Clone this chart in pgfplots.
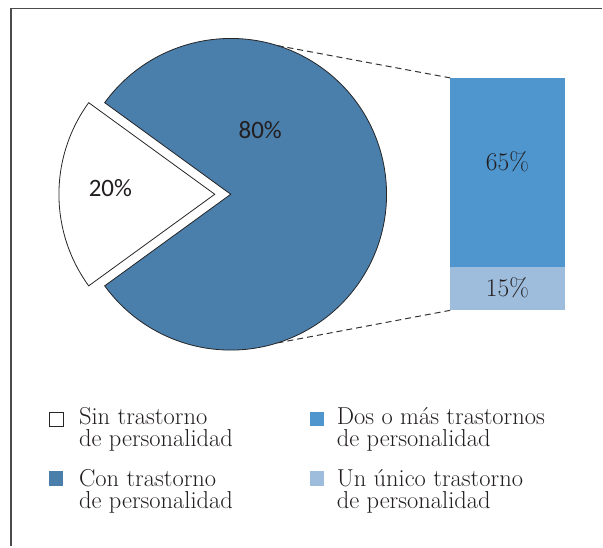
\documentclass[border=0pt]{standalone}
\usepackage{fontspec}
\usepackage{pgfplots}
\pgfplotsset{compat=1.18}
\newfontfamily\piefont{Carlito}
\definecolor{pieblue}{RGB}{74,126,171}
\definecolor{bardark}{RGB}{79,150,207}
\definecolor{barlight}{RGB}{158,188,220}
\definecolor{txt}{RGB}{35,31,32}
% data (percent)
\def\pWith{80}
\def\pWithout{20}
\def\pTwo{65}
\def\pOne{15}
\newcommand{\legtext}[2]{\parbox[t]{240pt}{\raggedright\fontsize{24.5}{21.7}\selectfont #1\\#2}}
\begin{document}
\begin{tikzpicture}
\begin{axis}[at={(450.7pt,236.3pt)}, anchor=south west, scale only axis, width=115pt, height=232.4pt,
  xmin=0, xmax=1, ymin=0, ymax=80, hide axis, ybar stacked, bar width=115pt, clip=false]
\addplot[fill=barlight, draw=none] coordinates {(0.5,\pOne)};
\addplot[fill=bardark, draw=none] coordinates {(0.5,\pTwo)};
\end{axis}
\begin{axis}[at={(0,0)}, anchor=south west, scale only axis, width=603pt, height=547pt,
  xmin=0, xmax=603, ymin=0, ymax=547, hide axis, clip=false]
\path (axis cs:0,0) rectangle (axis cs:603,547);
% frame
\draw[line width=1.4pt, color=black!70] (axis cs:11,0) -- (axis cs:11,538.5) -- (axis cs:603,538.5);
\pgfmathsetmacro{\half}{\pWithout*3.6/2}
\pgfmathsetmacro{\sa}{180-\half}
\pgfmathsetmacro{\ea}{180+\half}
% 80% wedge
\filldraw[fill=pieblue, draw=black!85, line width=0.8pt]
  (axis cs:231,352.5) -- ++(\sa:156pt) arc[start angle=\sa, end angle={-\sa}, radius=156pt] -- cycle;
% 20% wedge (exploded)
\filldraw[fill=white, draw=black!85, line width=0.8pt]
  (axis cs:215,352.5) -- ++(\sa:156pt) arc[start angle=\sa, end angle=\ea, radius=156pt] -- cycle;
% connector lines
\draw[dash pattern=on 6pt off 4pt, line width=1pt, color=black!80] (axis cs:277.9,501.3) -- (axis cs:450.7,469);
\draw[dash pattern=on 6pt off 4pt, line width=1pt, color=black!80] (axis cs:277.9,203.7) -- (axis cs:450.7,236.3);
% pie labels
\node[font=\piefont\fontsize{25}{28}\selectfont, text=txt] at (axis cs:110.5,359) {\pWithout\%};
\node[font=\piefont\fontsize{25}{28}\selectfont, text=txt] at (axis cs:260.5,416.5) {\pWith\%};
% bar labels
\node[font=\fontsize{25.5}{28}\selectfont, text=txt] at (axis cs:508,385.5) {\pTwo\%};
\node[font=\fontsize{25.5}{28}\selectfont, text=txt] at (axis cs:508,258.5) {\pOne\%};
% legend
\filldraw[fill=white, draw=black!85, line width=0.9pt] (axis cs:49.5,120.5) rectangle (axis cs:63.5,134.5);
\fill[pieblue] (axis cs:49,60.5) rectangle (axis cs:63.5,75);
\fill[bardark] (axis cs:310,120.5) rectangle (axis cs:324.5,135);
\fill[barlight] (axis cs:310,60.5) rectangle (axis cs:324.5,75);
\begin{scope}[every node/.style={anchor=base west, inner sep=0pt, text=txt}]
\node at (axis cs:79,122) {\legtext{Sin trastorno}{de personalidad}};
\node at (axis cs:79,60) {\legtext{Con trastorno}{de personalidad}};
\node at (axis cs:337,122) {\legtext{Dos o más trastornos}{de personalidad}};
\node at (axis cs:337,60) {\legtext{Un único trastorno}{de personalidad}};
\end{scope}
\end{axis}
\end{tikzpicture}
\end{document}
